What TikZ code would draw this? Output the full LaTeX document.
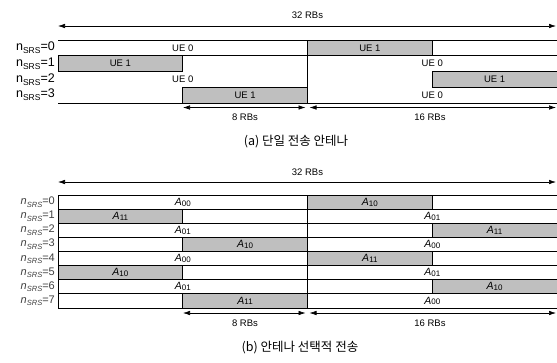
\documentclass[tikz,border=0pt]{standalone}
\usepackage{fontspec}
\setmainfont{Liberation Sans}
\newfontfamily\krfont{Noto Sans CJK KR}
\usetikzlibrary{arrows.meta}
\newcommand\srslab[1]{n\raisebox{-0.45ex}{\fontsize{8.5}{8.5}\selectfont SRS}=#1}
\newcommand\srslabit[1]{\textit{n}\raisebox{-0.45ex}{\fontsize{7.5}{7.5}\selectfont\itshape SRS}=#1}
\newcommand\antlab[1]{\textit{A}\raisebox{-0.15ex}{\fontsize{8}{8}\selectfont #1}}
\begin{document}
\begin{tikzpicture}[x=1pt,y=-1pt,
  rowline/.style={line width=0.8pt},
  cellfill/.style={draw=black,line width=0.8pt,fill=gray!50},
  lbl/.style={font=\fontsize{9.5}{10}\selectfont,inner sep=0pt},
  albl/.style={font=\fontsize{10.5}{11}\selectfont,inner sep=0pt},
  srs/.style={font=\fontsize{12.5}{13}\selectfont,anchor=east,inner sep=0pt},
  srsb/.style={font=\fontsize{11}{12}\selectfont,anchor=east,inner sep=0pt,text=black!75},
  dimarrow/.style={{Latex[length=7pt,width=4.5pt]}-{Latex[length=7pt,width=4.5pt]},line width=0.6pt},
  captext/.style={font=\krfont\fontsize{12.5}{13}\selectfont,inner sep=0pt}]
\useasboundingbox (0,0) rectangle (557,362);

% ================= (a) =================
\node[lbl] (a32) at (307.5,15) {32 RBs};
\coordinate (aTL) at (58,26); \coordinate (aTR) at (556,26);
\draw[dimarrow] (aTL) -- (aTR);

% shaded cells
\draw[cellfill] (307.5,40) rectangle (432.25,55.75);
\draw[cellfill] (58,55.75) rectangle (182.75,71.5);
\draw[cellfill] (432.25,71.5) rectangle (557,87.25);
\draw[cellfill] (182.75,87.25) rectangle (307.5,103);

% lines
\draw[rowline] (58,40) -- (557,40);
\draw[rowline] (58,55.75) -- (557,55.75);
\draw[rowline] (58,103) -- (557,103);
\draw[rowline] (307.5,40) -- (307.5,103);

% cell texts
\node[lbl] (aU00) at (182.75,47.9) {UE 0};
\node[lbl] (aU01) at (369.9,47.9) {UE 1};
\node[lbl] (aU10) at (120.4,63.6) {UE 1};
\node[lbl] (aU11) at (432.25,63.6) {UE 0};
\node[lbl] (aU20) at (182.75,79.4) {UE 0};
\node[lbl] (aU21) at (494.6,79.4) {UE 1};
\node[lbl] (aU30) at (245.1,95.1) {UE 1};
\node[lbl] (aU31) at (432.25,95.1) {UE 0};

% n_SRS labels
\node[srs] (an0) at (55,47.9) {\srslab{0}};
\node[srs] (an1) at (55,63.6) {\srslab{1}};
\node[srs] (an2) at (55,79.4) {\srslab{2}};
\node[srs] (an3) at (55,95.1) {\srslab{3}};

% bottom dimension arrows
\coordinate (a8L) at (183,107.5); \coordinate (a8R) at (305.5,107.5);
\coordinate (a16L) at (309.5,107.5); \coordinate (a16R) at (556,107.5);
\draw[dimarrow] (a8L) -- (a8R);
\draw[dimarrow] (a16L) -- (a16R);
\node[lbl] (a8t) at (245,117.5) {8 RBs};
\node[lbl] (a16t) at (430,117.5) {16 RBs};

\node[captext] (capa) at (296,142) {(a) 단일 전송 안테나};

% ================= (b) =================
\node[lbl] (b32) at (307.5,172) {32 RBs};
\coordinate (bTL) at (58,182); \coordinate (bTR) at (556,182);
\draw[dimarrow] (bTL) -- (bTR);

% shaded cells (left half)
\draw[cellfill] (58,209.125) rectangle (182.75,223.25);
\draw[cellfill] (182.75,237.375) rectangle (307.5,251.5);
\draw[cellfill] (58,265.625) rectangle (182.75,279.75);
\draw[cellfill] (182.75,293.875) rectangle (307.5,308);
% shaded cells (right half)
\draw[cellfill] (307.5,195) rectangle (432.25,209.125);
\draw[cellfill] (432.25,223.25) rectangle (557,237.375);
\draw[cellfill] (307.5,251.5) rectangle (432.25,265.625);
\draw[cellfill] (432.25,279.75) rectangle (557,293.875);

% grid lines
\foreach \yy in {195,209.125,223.25,237.375,251.5,265.625,279.75,293.875,308}
  \draw[rowline] (58,\yy) -- (557,\yy);
\draw[rowline] (58,195) -- (58,308);
\draw[rowline] (307.5,195) -- (307.5,308);

% cell texts, left
\node[albl] (bA00) at (182.75,202.06) {\antlab{00}};
\node[albl] (bA10) at (120.4,216.19) {\antlab{11}};
\node[albl] (bA20) at (182.75,230.31) {\antlab{01}};
\node[albl] (bA30) at (245.1,244.44) {\antlab{10}};
\node[albl] (bA40) at (182.75,258.56) {\antlab{00}};
\node[albl] (bA50) at (120.4,272.69) {\antlab{10}};
\node[albl] (bA60) at (182.75,286.81) {\antlab{01}};
\node[albl] (bA70) at (245.1,300.94) {\antlab{11}};
% cell texts, right
\node[albl] (bA01) at (369.9,202.06) {\antlab{10}};
\node[albl] (bA11) at (432.25,216.19) {\antlab{01}};
\node[albl] (bA21) at (494.6,230.31) {\antlab{11}};
\node[albl] (bA31) at (432.25,244.44) {\antlab{00}};
\node[albl] (bA41) at (369.9,258.56) {\antlab{11}};
\node[albl] (bA51) at (432.25,272.69) {\antlab{01}};
\node[albl] (bA61) at (494.6,286.81) {\antlab{10}};
\node[albl] (bA71) at (432.25,300.94) {\antlab{00}};

% n_SRS labels
\foreach \k/\yy in {0/202.06,1/216.19,2/230.31,3/244.44,4/258.56,5/272.69,6/286.81,7/300.94}
  \node[srsb] (bn\k) at (55,\yy) {\srslabit{\k}};

% bottom dimension arrows
\coordinate (b8L) at (183,313); \coordinate (b8R) at (305.5,313);
\coordinate (b16L) at (309.5,313); \coordinate (b16R) at (556,313);
\draw[dimarrow] (b8L) -- (b8R);
\draw[dimarrow] (b16L) -- (b16R);
\node[lbl] (b8t) at (245,323) {8 RBs};
\node[lbl] (b16t) at (430,323) {16 RBs};

\node[captext] (capb) at (300,348) {(b) 안테나 선택적 전송};
\end{tikzpicture}
\end{document}
